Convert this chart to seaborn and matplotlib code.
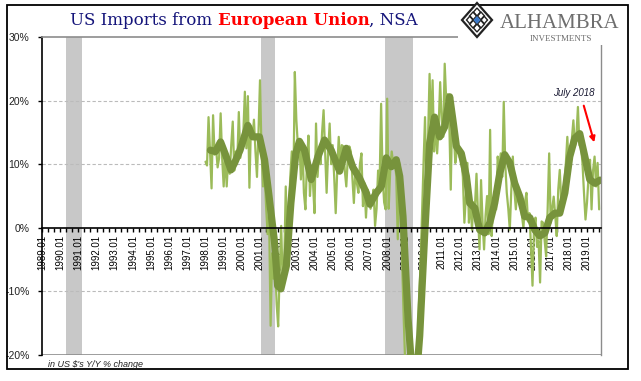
import numpy as np
import pandas as pd
import matplotlib
matplotlib.use("Agg")
import matplotlib.pyplot as plt
import matplotlib.patches as mpatches
import seaborn as sns

# monthly Y/Y % change, US imports from the EU
yoy_1998 = [10.4, 9.8, 17.4, 12.0, 6.2, 17.7, 11.5, 12.5, 9.5, 11.0, 18.0, 11.0]
yoy_1999 = [6.5, 12.0, 6.5, 11.0, 8.5, 13.0, 16.7, 9.0, 12.0, 10.5, 18.2, 11.0]
yoy_2000 = [13.0, 15.0, 21.4, 12.5, 20.7, 6.3, 16.0, 14.0, 17.0, 12.0, 8.0, 15.0]
yoy_2001 = [23.2, 12.0, 6.5, 9.0, 3.5, -1.0, 2.0, -15.4, -4.0, -8.0, -6.0, -12.0]
yoy_2002 = [-15.5, -7.0, 0.3, -9.0, -6.0, 6.5, -3.0, 2.0, 8.0, 12.0, 6.0, 24.5]
yoy_2003 = [17.0, 13.0, 13.8, 7.6, 13.3, 5.5, 2.9, 10.2, 14.5, 5.0, 9.0, 7.0]
yoy_2004 = [2.3, 16.4, 8.0, 12.0, 10.0, 15.0, 18.5, 12.0, 5.5, 12.0, 16.4, 10.0]
yoy_2005 = [13.0, 8.0, 2.3, 9.0, 14.3, 10.0, 13.0, 12.8, 9.0, 6.5, 11.0, 12.8]
yoy_2006 = [12.0, 8.0, 3.9, 9.0, 7.0, 5.5, 10.0, 11.7, 3.4, 7.0, 1.6, 6.0]
yoy_2007 = [5.0, 3.0, 4.0, 6.0, 0.3, 3.0, 9.0, 7.0, 19.5, 8.0, 4.0, 2.9]
yoy_2008 = [20.3, 3.0, 9.0, 12.0, 10.0, 11.0, 8.0, -1.8, 10.2, 4.0, -6.5, -14.8]
yoy_2009 = [-22.0, -27.0, -30.0, -31.0, -32.0, -30.0, -28.0, -26.0, -23.0, -12.0, -6.0, 2.0]
yoy_2010 = [10.0, 17.4, 5.0, 14.0, 24.2, 15.0, 23.2, 12.0, 17.0, 11.7, 16.0, 22.9]
yoy_2011 = [17.0, 14.3, 25.8, 20.0, 21.0, 17.0, 6.0, 19.0, 15.0, 10.2, 12.0, 12.2]
yoy_2012 = [11.0, 10.7, 8.0, 0.8, 5.0, 10.2, 0.8, 5.0, -0.3, 4.0, 3.5, 8.5]
yoy_2013 = [2.0, -3.4, 7.5, 1.0, -3.4, 2.0, 5.0, -1.0, 15.4, -1.3, 4.0, 3.0]
yoy_2014 = [2.9, 11.2, 9.0, 11.7, 8.0, 19.8, 10.0, 5.5, 3.0, -0.3, 6.0, 11.2]
yoy_2015 = [6.0, 2.9, 6.0, 4.0, 3.9, 2.0, 0.0, 4.0, 5.5, 1.0, 2.3, -3.0]
yoy_2016 = [-9.1, 0.0, 1.6, -3.0, -2.0, -8.6, 1.0, 0.8, -2.0, -4.5, 3.0, 11.7]
yoy_2017 = [0.8, 3.0, 4.9, 2.0, -1.3, 6.0, 9.1, 4.0, 3.9, 7.0, 10.0, 14.3]
yoy_2018 = [9.1, 12.0, 14.0, 16.9, 12.8, 14.5, 19.0, 13.0, 12.8, 10.2, 5.5, 1.3]
yoy_2019 = [4.0, 8.0, 10.7, 2.9, 9.0, 11.2, 6.5, 10.2, 2.9]

# smoothed (thick) line, read at decimal-year positions
avg_t = [1998.27, 1998.55, 1998.83, 1999.10, 1999.40, 1999.60, 1999.90, 2000.33, 2000.60,
         2000.97, 2001.25, 2001.50, 2001.80, 2001.97, 2002.15, 2002.45, 2002.70, 2002.97,
         2003.17, 2003.45, 2003.82, 2004.19, 2004.55, 2004.92, 2005.38, 2005.75, 2006.11,
         2006.48, 2006.85, 2007.05, 2007.40, 2007.68, 2007.95, 2008.23, 2008.50, 2008.69,
         2008.87, 2009.15, 2009.40, 2009.60, 2009.79, 2010.06, 2010.34, 2010.61, 2010.89,
         2011.17, 2011.44, 2011.62, 2011.81, 2012.08, 2012.36, 2012.54, 2012.82, 2013.09,
         2013.37, 2013.65, 2013.92, 2014.20, 2014.47, 2014.75, 2015.02, 2015.30, 2015.57,
         2015.85, 2016.12, 2016.40, 2016.68, 2016.95, 2017.23, 2017.50, 2017.78, 2018.05,
         2018.33, 2018.60, 2018.88, 2019.15, 2019.43, 2019.72]
avg_v = [12.2, 12.0, 13.5, 11.5, 9.1, 10.2, 12.2, 16.1, 14.3,
         14.3, 10.7, 4.9, -2.3, -9.1, -9.6, -6.0, 3.9, 11.7,
         13.6, 12.2, 7.6, 11.2, 13.8, 12.2, 8.9, 12.5, 9.5,
         7.8, 5.5, 3.7, 5.5, 6.5, 11.0, 9.6, 10.7, 8.1,
         1.8, -14.3, -24.0, -24.0, -17.0, -1.3, 13.3, 17.4, 14.3,
         15.9, 20.6, 16.9, 12.8, 11.7, 8.1, 3.9, 3.1, -0.3,
         -0.8, 0.8, 3.9, 8.6, 11.5, 10.2, 7.0, 4.9, 1.8,
         1.6, -0.3, -1.3, -0.8, 1.6, 2.3, 2.3, 5.5, 11.2,
         14.1, 14.8, 11.2, 7.6, 7.0, 7.5]

# recessions (shaded)
rec_start = [1990.34, 2001.08, 2007.86]
rec_end = [1991.22, 2001.85, 2009.42]

years = list(range(1989, 2020))
year_labels = [f"{y}.01" for y in years]
y_ticks = [30, 20, 10, 0, -10, -20]
y_labels = ["30%", "20%", "10%", "0%", "-10%", "-20%"]

yoy = (yoy_1998 + yoy_1999 + yoy_2000 + yoy_2001 + yoy_2002 + yoy_2003 + yoy_2004
       + yoy_2005 + yoy_2006 + yoy_2007 + yoy_2008 + yoy_2009 + yoy_2010 + yoy_2011
       + yoy_2012 + yoy_2013 + yoy_2014 + yoy_2015 + yoy_2016 + yoy_2017 + yoy_2018 + yoy_2019)
df = pd.DataFrame({"t": 1998 + np.arange(len(yoy)) / 12.0, "yoy": yoy})
avg = pd.DataFrame({"t": avg_t, "v": avg_v})

sns.set_style("white")
plt.rcParams["font.family"] = ["Liberation Sans", "DejaVu Sans"]

W, H = 641, 381
fig = plt.figure(figsize=(W / 100, H / 100), dpi=100)
ax = fig.add_axes([42 / W, 1 - 355 / H, (601 - 42) / W, (355 - 37) / H])

for s, e in zip(rec_start, rec_end):
    ax.axvspan(s, e, color="#C8C8C8", lw=0, zorder=0)

for g in [20, 10, -10]:
    ax.axhline(g, color="#BBBBBB", lw=0.8, ls=(0, (3, 2)), zorder=0.5)
ax.axhline(-20, color="#8C8C8C", lw=1.2, zorder=0.6)

sns.lineplot(data=df, x="t", y="yoy", ax=ax, color="#9BBB59", linewidth=1.6, zorder=2)
sns.lineplot(data=avg, x="t", y="v", ax=ax, color="#77933C", linewidth=5.2, zorder=3,
             solid_joinstyle="round", solid_capstyle="round")

ax.set_xlim(1989.0, 2019.77)
ax.set_ylim(-20, 30)
ax.set_xlabel("")
ax.set_ylabel("")

ax.spines["bottom"].set_position(("data", 0))
ax.spines["bottom"].set_color("black")
ax.spines["bottom"].set_linewidth(1.2)
ax.spines["left"].set_color("black")
ax.spines["left"].set_linewidth(1.2)
ax.spines["top"].set_color("#8C8C8C")
ax.spines["right"].set_color("#8C8C8C")
ax.spines["top"].set_linewidth(1.2)
ax.spines["right"].set_linewidth(1.0)
for sp in ax.spines.values():
    sp.set_zorder(4)

ax.set_xticks(years)
ax.set_xticklabels(year_labels, rotation=90, fontsize=7, color="black")
ax.set_xticks(np.arange(1989, 2019.8, 1 / 3), minor=True)
ax.tick_params(axis="x", which="both", direction="out", length=3, width=1, color="black",
               bottom=True, pad=2)
ax.set_yticks(y_ticks)
ax.set_yticklabels(y_labels, fontsize=7.5, color="#222222")
ax.tick_params(axis="y", direction="out", length=3, width=1, color="black", left=True, pad=6)

# overlay in pixel coordinates for border, title, logo and notes
ov = fig.add_axes([0, 0, 1, 1], zorder=10)
ov.set_xlim(0, W)
ov.set_ylim(H, 0)
ov.axis("off")
ov.patch.set_alpha(0)

ov.add_patch(mpatches.Rectangle((458, 0), 169, 45, facecolor="white", edgecolor="none"))
ov.add_patch(mpatches.Rectangle((7, 5), 621, 364, facecolor="none", edgecolor="black", lw=1.3))

# logo
cx, cy, hw, hh = 477, 20, 15, 17
ov.add_patch(mpatches.Polygon([(cx - hw, cy), (cx, cy - hh), (cx + hw, cy), (cx, cy + hh)],
                              closed=True, facecolor="white", edgecolor="#222222", lw=1.6))
for dx, dy in [(-7, 0), (7, 0), (0, -8), (0, 8), (-4, -4), (4, -4), (-4, 4), (4, 4)]:
    ov.add_patch(mpatches.Polygon([(cx + dx - 3.5, cy + dy), (cx + dx, cy + dy - 4),
                                   (cx + dx + 3.5, cy + dy), (cx + dx, cy + dy + 4)],
                                  closed=True, facecolor="none", edgecolor="#222222", lw=1.0))
ov.add_patch(mpatches.Polygon([(cx - 3.5, cy), (cx, cy - 4), (cx + 3.5, cy), (cx, cy + 4)],
                              closed=True, facecolor="#3A78C8", edgecolor="none"))
ov.text(560, 28.5, "ALHAMBRA", family="Liberation Serif", fontsize=15, color="#6E6E6E",
        ha="center", va="baseline")
ov.text(561, 41, "INVESTMENTS", family="Liberation Serif", fontsize=6.5, color="#6E6E6E",
        ha="center", va="baseline")

# title in three colours
parts = [("US Imports from ", "#14147A", "normal"),
         ("European Union", "#FF0000", "bold"),
         (", NSA", "#14147A", "normal")]
texts = [ov.text(0, 25, s, color=c, fontweight=w, family="DejaVu Serif", fontsize=12,
                 ha="left", va="baseline") for s, c, w in parts]
fig.canvas.draw()
r = fig.canvas.get_renderer()
widths = [t.get_window_extent(r).width for t in texts]
x0 = 244 - sum(widths) / 2
for t, w in zip(texts, widths):
    t.set_x(x0)
    x0 += w

ov.text(48, 367, "in US $'s Y/Y % change", fontsize=6.5, style="italic", color="#222222",
        ha="left", va="baseline")
ov.text(574, 96, "July 2018", fontsize=7, style="italic", color="#1a1a33", ha="center",
        va="baseline")
ov.annotate("", xy=(595, 145), xytext=(583, 103),
            arrowprops=dict(arrowstyle="-|>", color="#FF0000", lw=1.5, mutation_scale=8))

fig.savefig("out.png", dpi=100)
